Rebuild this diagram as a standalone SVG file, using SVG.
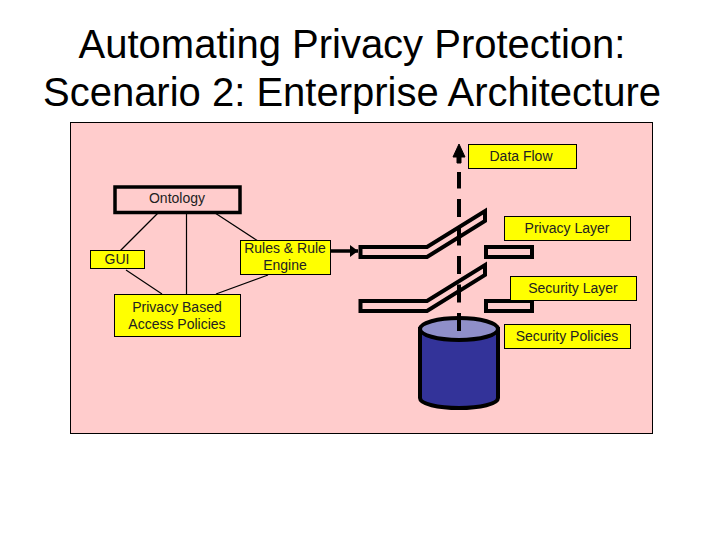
<svg xmlns="http://www.w3.org/2000/svg" width="720" height="540" viewBox="0 0 720 540">
<style>
text{font-family:"Liberation Sans",Arial,sans-serif;text-anchor:middle;fill:#000}
.t{font-size:40px}
.l{font-size:14px;fill:#222}
.y{fill:#ff0;stroke:#000;stroke-width:1}
.thin{fill:none;stroke:#000;stroke-width:1.2}
.sw{fill:#ffcccc;stroke:#000;stroke-width:4}
.flow{fill:none;stroke:#000;stroke-width:4}
</style>
<defs>
<marker id="tip" markerUnits="userSpaceOnUse" markerWidth="8" markerHeight="12" refX="8" refY="6" orient="auto"><path d="M0 0L8 6L0 12Z" fill="#000"/></marker>
</defs>
<rect width="720" height="540" fill="#fff"/>
<g id="title">
<text class="t" x="352" y="58">Automating Privacy Protection:</text>
<text class="t" x="352" y="106">Scenario 2: Enterprise Architecture</text>
</g>
<rect id="panel" x="70.500" y="122.500" width="582" height="311" fill="#ffcccc" stroke="#000"/>
<g id="connectors">
<path class="thin" d="M158 213L119 252"/>
<path class="thin" d="M186.500 213V295"/>
<path class="thin" d="M212 211L258 241"/>
<path class="thin" d="M126 270L162 294"/>
<path class="thin" d="M268 275L216 294"/>
<path d="M331 251H358" fill="none" stroke="#000" stroke-width="3.500" marker-end="url(#tip)"/>
<g id="switch-privacy">
<path class="sw" d="M360.500 247H427L485 211V221L427 257H360.500Z"/>
<rect class="sw" x="486" y="247" width="46" height="10"/>
</g>
<g id="switch-security">
<path class="sw" d="M360.500 301H427L485 265V275L427 311H360.500Z"/>
<rect class="sw" x="486" y="301" width="46" height="10"/>
</g>
<g id="database">
<path d="M420 329V398C420 404 438 408 459 408C480 408 498 404 498 398V329Z" fill="#333399" stroke="#000" stroke-width="4"/>
<ellipse cx="459" cy="329" rx="39" ry="11" fill="#8f8fc9" stroke="#000" stroke-width="4"/>
</g>
<path class="flow" stroke-dasharray="18 10.500" d="M459 331V172"/>
<path d="M459 144L453 157H457V163H461V157H465Z" fill="#000" stroke="#000"/>
</g>
<g id="data-flow"><rect class="y" x="468.500" y="144.500" width="108" height="24"/><text class="l" x="521" y="161">Data Flow</text></g>
<g id="ontology"><rect x="115" y="187" width="125" height="25.500" fill="#ffcccc" stroke="#000" stroke-width="3.500"/><text class="l" x="177" y="203">Ontology</text></g>
<g id="privacy-layer"><rect class="y" x="504.500" y="216.500" width="126" height="24"/><text class="l" x="567" y="233">Privacy Layer</text></g>
<g id="gui"><rect class="y" x="90.500" y="250.500" width="54" height="18"/><text class="l" x="117" y="264">GUI</text></g>
<g id="rules"><rect class="y" x="240.500" y="240.500" width="90" height="34"/><text class="l" x="285" y="253">Rules &amp; Rule</text><text class="l" x="285" y="270">Engine</text></g>
<g id="security-layer"><rect class="y" x="510.500" y="276.500" width="126" height="24"/><text class="l" x="573" y="293">Security Layer</text></g>
<g id="policies"><rect class="y" x="114.500" y="294.500" width="126" height="42"/><text class="l" x="177" y="312">Privacy Based</text><text class="l" x="177" y="329">Access Policies</text></g>
<g id="security-policies"><rect class="y" x="504.500" y="324.500" width="126" height="24"/><text class="l" x="567" y="341">Security Policies</text></g>
</svg>
